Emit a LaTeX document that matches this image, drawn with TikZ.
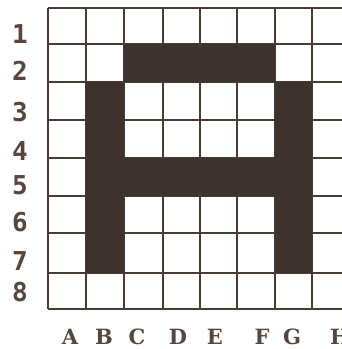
\documentclass[tikz,border=0pt]{standalone}
\usepackage{fontspec}
\newfontfamily\colfont{DejaVu Serif}
\newfontfamily\rowfont{DejaVu Sans Mono}
\definecolor{ink}{HTML}{4A3C34}
\definecolor{inkfill}{HTML}{3C322E}
\definecolor{labink}{HTML}{55473F}
\begin{document}
\begin{tikzpicture}[x=1pt,y=-1pt,
  gridline/.style={draw=ink,line width=1.3pt},
  blockfill/.style={fill=inkfill},
  rowlab/.style={text=labink,inner sep=0pt},
  collab/.style={text=labink,inner sep=0pt}]
\useasboundingbox (0,0) rectangle (342,349);
\fill[white] (0,0) rectangle (342,349);
\begin{scope}
\clip (0,0) rectangle (342,349);
% vertical lines
\foreach \x in {48,86,124,163,200,237,275,312,350}
  \draw[gridline] (\x,8) -- (\x,309);
% horizontal lines
\foreach \y in {8,44,82,120,158,196,233,273,309}
  \draw[gridline] (48,\y) -- (360,\y);
% letter A blocks
\fill[blockfill] (124,44) rectangle (275,82);
\fill[blockfill] (86,82) rectangle (124,273);
\fill[blockfill] (275,82) rectangle (312,273);
\fill[blockfill] (124,158) rectangle (275,196);
\end{scope}
% row labels
\node[rowlab] (r1) at (20,34) {\fontsize{26}{26}\rowfont\bfseries 1};
\node[rowlab] (r2) at (20,71) {\fontsize{26}{26}\rowfont\bfseries 2};
\node[rowlab] (r3) at (20,112) {\fontsize{26}{26}\rowfont\bfseries 3};
\node[rowlab] (r4) at (20,151) {\fontsize{26}{26}\rowfont\bfseries 4};
\node[rowlab] (r5) at (20,185) {\fontsize{26}{26}\rowfont\bfseries 5};
\node[rowlab] (r6) at (20,222) {\fontsize{26}{26}\rowfont\bfseries 6};
\node[rowlab] (r7) at (20,261) {\fontsize{26}{26}\rowfont\bfseries 7};
\node[rowlab] (r8) at (20,292) {\fontsize{26}{26}\rowfont\bfseries 8};
% column labels
\begin{scope}
\clip (0,0) rectangle (342,349);
\node[collab] (cA) at (70,337) {\fontsize{21}{21}\colfont\bfseries A};
\node[collab] (cB) at (104,337) {\fontsize{21}{21}\colfont\bfseries B};
\node[collab] (cC) at (137,337) {\fontsize{21}{21}\colfont\bfseries C};
\node[collab] (cD) at (178,337) {\fontsize{21}{21}\colfont\bfseries D};
\node[collab] (cE) at (215,337) {\fontsize{21}{21}\colfont\bfseries E};
\node[collab] (cF) at (262,337) {\fontsize{21}{21}\colfont\bfseries F};
\node[collab] (cG) at (292,337) {\fontsize{21}{21}\colfont\bfseries G};
\node[collab] (cH) at (340,337) {\fontsize{21}{21}\colfont\bfseries H};
\end{scope}
\end{tikzpicture}
\end{document}
